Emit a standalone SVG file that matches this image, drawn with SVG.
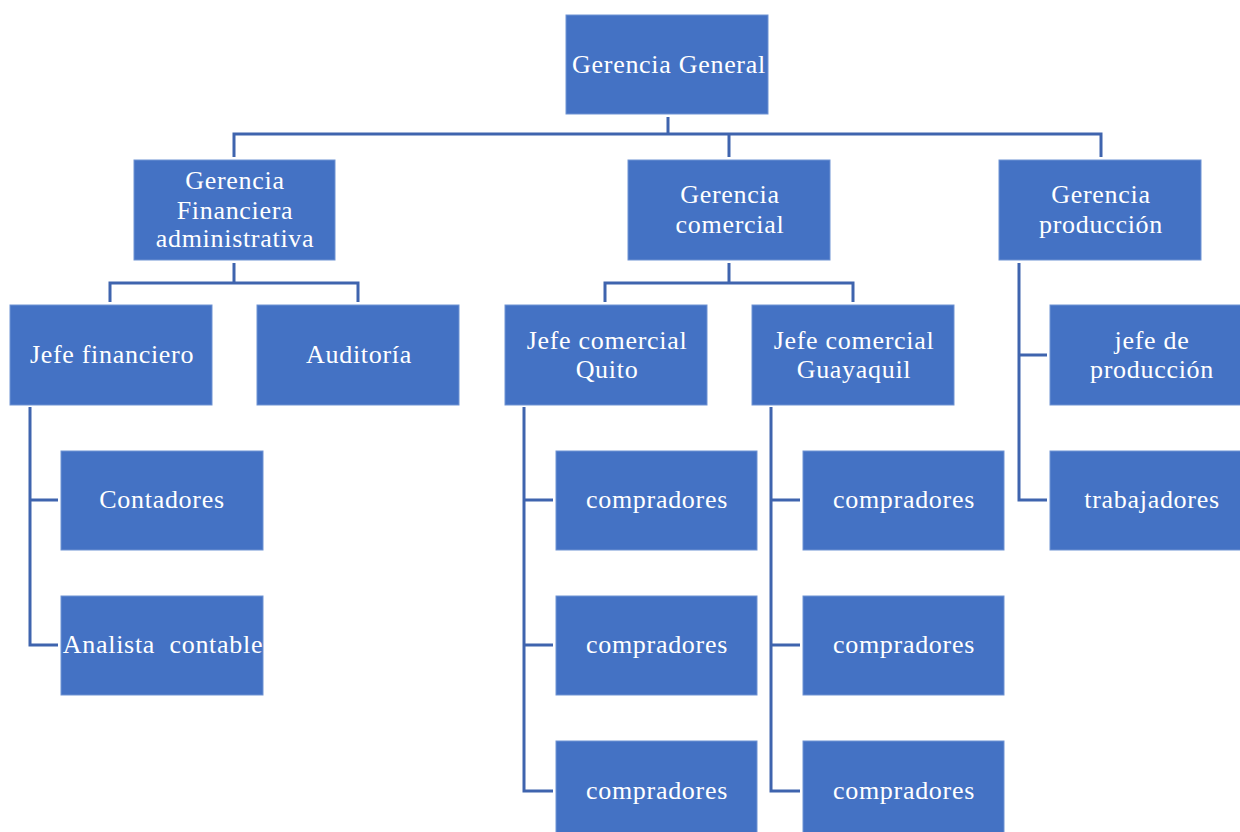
<svg xmlns="http://www.w3.org/2000/svg" width="1240" height="832" viewBox="0 0 1240 832">
<style>
.b{fill:#4472C4;stroke:#6F93D3;stroke-width:1}
.t{font-family:"Liberation Serif","Times New Roman",serif;font-size:26px;letter-spacing:0.7px;fill:#FFFFFF;text-anchor:middle}
.c{fill:none;stroke:#3F64AE;stroke-width:3}
</style>
<rect width="1240" height="832" fill="#FFFFFF"/>
<g id="connectors">
<path class="c" d="M668 117V134M234 157V134H1101V157M729 134V157"/>
<path class="c" d="M234 263V283M110 302V283H358V302"/>
<path class="c" d="M729 263V283M605 302V283H853V302"/>
<path class="c" d="M1019 263V500H1047M1019 355H1047"/>
<path class="c" d="M30 407V645H58M30 500H58"/>
<path class="c" d="M524 407V791H553M524 500H553M524 645H553"/>
<path class="c" d="M771 407V791H800M771 500H800M771 645H800"/>
</g>
<g id="n-gerencia-general"><rect class="b" x="566" y="15" width="202" height="99"/><text class="t" x="669" y="73">Gerencia General</text></g>
<g id="n-gerencia-financiera"><rect class="b" x="134" y="160" width="201" height="100"/><text class="t" x="235" y="189">Gerencia</text><text class="t" x="235" y="219">Financiera</text><text class="t" x="235" y="247">administrativa</text></g>
<g id="n-gerencia-comercial"><rect class="b" x="628" y="160" width="202" height="100"/><text class="t" x="730" y="203">Gerencia</text><text class="t" x="730" y="233">comercial</text></g>
<g id="n-gerencia-produccion"><rect class="b" x="999" y="160" width="202" height="100"/><text class="t" x="1101" y="203">Gerencia</text><text class="t" x="1101" y="233">producción</text></g>
<g id="n-jefe-financiero"><rect class="b" x="10" y="305" width="202" height="100"/><text class="t" x="112" y="363">Jefe financiero</text></g>
<g id="n-auditoria"><rect class="b" x="257" y="305" width="202" height="100"/><text class="t" x="359" y="363">Auditoría</text></g>
<g id="n-jefe-quito"><rect class="b" x="505" y="305" width="202" height="100"/><text class="t" x="607" y="349">Jefe comercial</text><text class="t" x="607" y="378">Quito</text></g>
<g id="n-jefe-guayaquil"><rect class="b" x="752" y="305" width="202" height="100"/><text class="t" x="854" y="349">Jefe comercial</text><text class="t" x="854" y="378">Guayaquil</text></g>
<g id="n-jefe-produccion"><rect class="b" x="1050" y="305" width="202" height="100"/><text class="t" x="1152" y="349">jefe de</text><text class="t" x="1152" y="378">producción</text></g>
<g id="n-contadores"><rect class="b" x="61" y="451" width="202" height="99"/><text class="t" x="162" y="508">Contadores</text></g>
<g id="n-analista"><rect class="b" x="61" y="596" width="202" height="99"/><text class="t" x="163" y="653" xml:space="preserve">Analista  contable</text></g>
<g id="n-quito-c1"><rect class="b" x="556" y="451" width="201" height="99"/><text class="t" x="657" y="508">compradores</text></g>
<g id="n-quito-c2"><rect class="b" x="556" y="596" width="201" height="99"/><text class="t" x="657" y="653">compradores</text></g>
<g id="n-quito-c3"><rect class="b" x="556" y="741" width="201" height="99"/><text class="t" x="657" y="799">compradores</text></g>
<g id="n-guay-c1"><rect class="b" x="803" y="451" width="201" height="99"/><text class="t" x="904" y="508">compradores</text></g>
<g id="n-guay-c2"><rect class="b" x="803" y="596" width="201" height="99"/><text class="t" x="904" y="653">compradores</text></g>
<g id="n-guay-c3"><rect class="b" x="803" y="741" width="201" height="99"/><text class="t" x="904" y="799">compradores</text></g>
<g id="n-trabajadores"><rect class="b" x="1050" y="451" width="202" height="99"/><text class="t" x="1152" y="508">trabajadores</text></g>
</svg>
